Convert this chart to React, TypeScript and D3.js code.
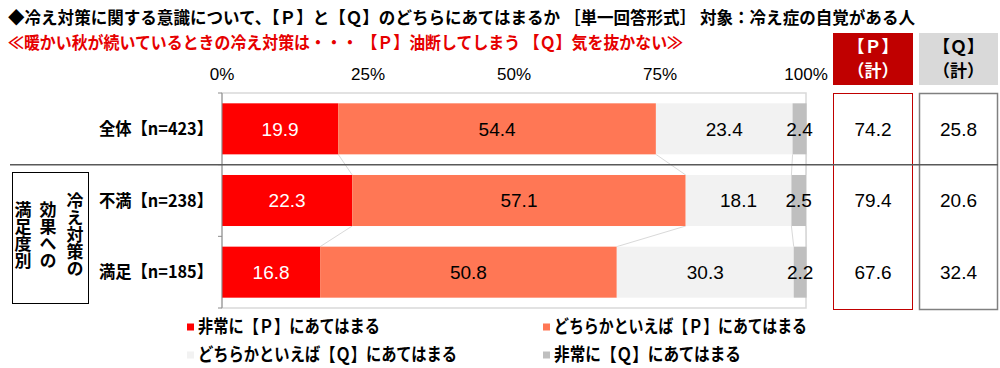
import React from "react";
import * as d3 from "d3";

const categories = ["全体【n=423】", "不満【n=238】", "満足【n=185】"];
const seriesNames = [
  "非常に【Ｐ】にあてはまる",
  "どちらかといえば【Ｐ】にあてはまる",
  "どちらかといえば【Ｑ】にあてはまる",
  "非常に【Ｑ】にあてはまる",
];
const veryP = [19.9, 22.3, 16.8];
const someP = [54.4, 57.1, 50.8];
const someQ = [23.4, 18.1, 30.3];
const veryQ = [2.4, 2.5, 2.2];
const totalP = [74.2, 79.4, 67.6];
const totalQ = [25.8, 20.6, 32.4];
const tickValues = [0, 25, 50, 75, 100];
const seriesColors = ["#ff0000", "#ff7755", "#f2f2f2", "#bfbfbf"];
const labelColors = ["#ffffff", "#000000", "#000000", "#000000"];

const JP = "'Noto Sans CJK JP', 'Noto Sans', sans-serif";
const NUM = "'Liberation Sans', Arial, sans-serif";

export default function App() {
  const W = 1000;
  const H = 368;
  const plotL = 222;
  const plotR = 806;
  const plotT = 93;
  const plotB = 308;

  const x = d3.scaleLinear().domain([0, 100]).range([plotL, plotR]);
  const y = d3
    .scaleBand<string>()
    .domain(categories)
    .range([plotT, plotB])
    .paddingInner(0.288)
    .paddingOuter(0.144);
  const step = y.step();
  const bw = y.bandwidth();

  const series = [veryP, someP, someQ, veryQ];
  const stackData = categories.map((c, i) => {
    const row: any = { cat: c };
    series.forEach((s, k) => (row["s" + k] = s[i]));
    return row;
  });
  const stack = d3.stack().keys(["s0", "s1", "s2", "s3"])(stackData);

  const connectors: { x1: number; y1: number; x2: number; y2: number }[] = [];
  stack.forEach((layer) => {
    for (let i = 0; i < categories.length - 1; i++) {
      const a = layer[i][1];
      const b = layer[i + 1][1];
      connectors.push({
        x1: x(a),
        y1: (y(categories[i]) as number) + bw,
        x2: x(b),
        y2: y(categories[i + 1]) as number,
      });
    }
  });

  const sepY = plotT + step;
  const boundaries = d3.range(categories.length + 1).map((i) => plotT + i * step);

  const pL = 833, pR = 913, qL = 919, qR = 998;

  const legendPos = [
    { x: 187, y: 327, w: 182 },
    { x: 543, y: 327, w: 253 },
    { x: 187, y: 355, w: 259 },
    { x: 543, y: 355, w: 187 },
  ];

  return (
    <svg width={W} height={H} style={{ position: "absolute", left: 0, top: 0 }}>
      <rect x={0} y={0} width={W} height={H} fill="#ffffff" />
      <text x={8} y={24} fontFamily={JP} fontWeight={700} fontSize={17} fill="#000" textLength={907} lengthAdjust="spacingAndGlyphs">
        ◆冷え対策に関する意識について、【Ｐ】と【Ｑ】のどちらにあてはまるか ［単一回答形式］ 対象：冷え症の自覚がある人
      </text>
      <text x={8} y={49} fontFamily={JP} fontWeight={700} fontSize={17} fill="#e60000" textLength={675} lengthAdjust="spacingAndGlyphs">
        ≪暖かい秋が続いているときの冷え対策は・・・ 【Ｐ】油断してしまう 【Ｑ】気を抜かない≫
      </text>

      {tickValues.map((t) => (
        <text key={t} x={x(t)} y={80} textAnchor="middle" fontFamily={NUM} fontSize={17} fill="#000">
          {t}%
        </text>
      ))}

      <rect x={plotL} y={plotT} width={plotR - plotL} height={plotB - plotT} fill="none" stroke="#d9d9d9" strokeWidth={1.5} />

      {connectors.map((c, i) => (
        <line key={i} x1={c.x1} y1={c.y1} x2={c.x2} y2={c.y2} stroke="#d9d9d9" strokeWidth={1} />
      ))}

      {stack.map((layer, k) => (
        <g key={k}>
          {layer.map((d, i) => (
            <rect
              key={i}
              x={x(d[0])}
              y={y(categories[i])}
              width={x(d[1]) - x(d[0])}
              height={bw}
              fill={seriesColors[k]}
            />
          ))}
        </g>
      ))}
      {stack.map((layer, k) => (
        <g key={"l" + k}>
          {layer.map((d, i) => (
            <text
              key={i}
              x={(x(d[0]) + x(d[1])) / 2}
              y={(y(categories[i]) as number) + bw / 2}
              dy="0.36em"
              textAnchor="middle"
              fontFamily={NUM}
              fontSize={19}
              fill={labelColors[k]}
            >
              {series[k][i].toFixed(1)}
            </text>
          ))}
        </g>
      ))}

      <line x1={plotL} y1={plotT} x2={plotL} y2={plotB} stroke="#8c8c8c" strokeWidth={1} />
      {boundaries.map((b, i) => (
        <line key={i} x1={plotL - 4} y1={b} x2={plotL} y2={b} stroke="#8c8c8c" strokeWidth={1} />
      ))}

      {categories.map((c) => (
        <text key={c} x={213} y={(y(c) as number) + bw / 2} dy="0.36em" textAnchor="end" fontFamily={JP} fontWeight={700} fontSize={17} fill="#000" textLength={114} lengthAdjust="spacingAndGlyphs">
          {c}
        </text>
      ))}

      <rect x={12.5} y={172.5} width={76} height={131} fill="none" stroke="#000" strokeWidth={1} />
      {["冷え対策の", "効果への", "満足度別"].map((col, ci) => (
        <text
          key={col}
          x={[75, 48, 23][ci]}
          y={235}
          fontFamily={JP}
          fontWeight={700}
          fontSize={17}
          fill="#000"
          textAnchor="middle"
          dominantBaseline="central"
          style={{ writingMode: "vertical-rl" as any }}
        >
          {col}
        </text>
      ))}

      <rect x={pL} y={33} width={pR - pL} height={52} fill="#c00000" />
      <rect x={qL} y={33} width={qR - qL} height={52} fill="#d9d9d9" />
      <text x={(pL + pR) / 2} y={53} textAnchor="middle" fontFamily={JP} fontWeight={700} fontSize={17} fill="#fff">【Ｐ】</text>
      <text x={(pL + pR) / 2} y={77} textAnchor="middle" fontFamily={JP} fontWeight={700} fontSize={17} fill="#fff">（計）</text>
      <text x={(qL + qR) / 2} y={53} textAnchor="middle" fontFamily={JP} fontWeight={700} fontSize={17} fill="#000">【Ｑ】</text>
      <text x={(qL + qR) / 2} y={77} textAnchor="middle" fontFamily={JP} fontWeight={700} fontSize={17} fill="#000">（計）</text>

      <rect x={pL + 0.5} y={93.5} width={pR - pL - 1} height={216} fill="none" stroke="#c00000" strokeWidth={1} />
      <rect x={qL + 0.5} y={93.5} width={qR - qL - 1} height={216} fill="none" stroke="#808080" strokeWidth={1.5} />
      {categories.map((c, i) => (
        <g key={"t" + i}>
          <text x={(pL + pR) / 2} y={(y(c) as number) + bw / 2} dy="0.36em" textAnchor="middle" fontFamily={NUM} fontSize={19} fill="#000">
            {totalP[i].toFixed(1)}
          </text>
          <text x={(qL + qR) / 2} y={(y(c) as number) + bw / 2} dy="0.36em" textAnchor="middle" fontFamily={NUM} fontSize={19} fill="#000">
            {totalQ[i].toFixed(1)}
          </text>
        </g>
      ))}

      <line x1={10} y1={sepY} x2={998} y2={sepY} stroke="#595959" strokeWidth={1.5} />

      {seriesNames.map((n, k) => {
        const p = legendPos[k];
        return (
          <g key={n}>
            <rect x={p.x} y={p.y - 3.5} width={7} height={7} fill={seriesColors[k]} />
            <text x={p.x + 11} y={p.y} dy="0.36em" fontFamily={JP} fontWeight={700} fontSize={18} fill="#000" textLength={p.w} lengthAdjust="spacingAndGlyphs">
              {n}
            </text>
          </g>
        );
      })}
    </svg>
  );
}
